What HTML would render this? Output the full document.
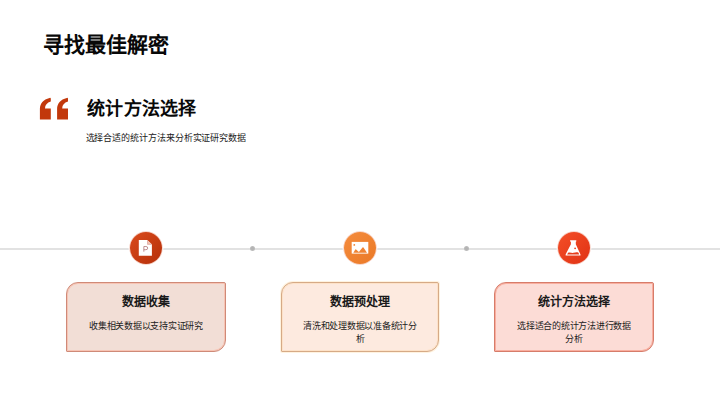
<!DOCTYPE html>
<html lang="zh-CN"><head><meta charset="utf-8">
<style>
*{margin:0;padding:0;box-sizing:border-box}
html,body{width:720px;height:404px;overflow:hidden;background:#fff;font-family:"Liberation Sans",sans-serif;color:#080808}
.abs{position:absolute}
#title{left:43.3px;top:31.5px;font-size:21px;font-weight:bold;line-height:26px;white-space:nowrap}
#quote{left:34px;top:92px;width:40px;height:32px}
#sub{left:87px;top:96.5px;font-size:18px;letter-spacing:0.3px;font-weight:bold;line-height:24px;white-space:nowrap}
#desc{left:85.5px;top:132px;font-size:9px;letter-spacing:-0.08px;line-height:12px;white-space:nowrap;color:#222}
#line{left:0;top:248px;width:720px;height:1.6px;background:#e2e2e2}
.dot{width:5px;height:5px;border-radius:50%;background:radial-gradient(circle,#b4b4b4 30%,#c4c4c4 100%);top:246.4px}
.circ{width:32px;height:32px;border-radius:50%;top:232px;box-shadow:0 0 0 .7px rgba(235,140,110,.45),0 0 0 1.4px #fff}
.circ svg{display:block}
.card{width:159px;height:70px;top:282px;border:1px solid;border-radius:12px 2px 12px 1px;text-align:center}
.card h3{font-size:12px;font-weight:bold;line-height:16px;margin-top:10.5px;color:#1a1a1a}
.card p{font-size:9px;letter-spacing:-0.25px;line-height:13px;margin:10.4px 19px 0;color:#222}

</style></head><body>
<div id="title" class="abs">寻找最佳解密</div>
<svg id="quote" class="abs" viewBox="0 0 40 32"><g fill="#c2380b"><path d="M5.9 27.6H16.8V16.5H11C11 13.2 13 10.8 16.8 9.6V6.7Q16.8 5.6 15.6 5.9C9.3 7.4 5.9 11.4 5.9 16.8Z"/><path transform="translate(17.2 0)" d="M5.9 27.6H16.8V16.5H11C11 13.2 13 10.8 16.8 9.6V6.7Q16.8 5.6 15.6 5.9C9.3 7.4 5.9 11.4 5.9 16.8Z"/></g></svg>
<div id="sub" class="abs">统计方法选择</div>
<div id="desc" class="abs">选择合适的统计方法来分析实证研究数据</div>

<div id="line" class="abs"></div>
<div class="dot abs" style="left:250px"></div>
<div class="dot abs" style="left:464.4px"></div>

<div class="circ abs" style="left:129.6px;background:linear-gradient(135deg,#d6481a 10%,#b9320b 90%)">
<svg width="32" height="32" viewBox="0 0 32 32"><path fill="#fff" d="M8.8 8H17.3L21.9 12.6V23.8H8.8Z"/><path fill="#f2c2b4" d="M17.3 8L21.9 12.6H17.3Z"/><path fill="none" stroke="#d6a09a" stroke-width=".6" d="M17.5 8.3V12.4H21.6"/><path fill="none" stroke="#b88284" stroke-width=".9" d="M13.85 19.7V14.5H15.9Q17.7 14.5 17.7 16.1Q17.7 17.7 15.9 17.7H13.85"/></svg>
</div>
<div class="circ abs" style="left:344px;background:linear-gradient(135deg,#f3893a 15%,#ec7c2a 85%)">
<svg width="32" height="32" viewBox="0 0 32 32"><rect x="7.7" y="9.9" width="16.6" height="11.7" fill="#fff"/><path fill="#f08434" d="M9.3 20.7L11.3 17.6Q11.7 17 12.1 17.6L14.9 19.9L18.5 15.6Q19 15 19.5 15.6L23 20.7Z"/><circle cx="10.3" cy="12.9" r="0.9" fill="#f08434"/></svg>
</div>
<div class="circ abs" style="left:558px;background:linear-gradient(135deg,#f24c26 10%,#e23516 90%)">
<svg width="32" height="32" viewBox="0 0 32 32"><path fill="#fff" d="M12.1 8.3H18.3V9.4L17.8 9.7V12.3L22.4 22.2Q23 23.5 21.7 23.5H8.4Q7.1 23.5 7.7 22.2L12.9 12.3V9.7L12.1 9.4Z"/><path fill="#e63e1c" d="M9.1 22.5L10.1 20.7C12.3 20 14 21.3 15.7 20.8C17.5 20.2 19.2 20.1 20.5 20.7L21.2 22.5Z"/><circle cx="17.1" cy="16.3" r="0.9" fill="#e43c1c"/></svg>
</div>

<div class="card abs" style="left:66px;width:160px;background:#f2ded6;border-color:#cf8a78;box-shadow:inset 0 0 0 1px #f7c4b4">
<h3>数据收集</h3><p>收集相关数据以支持实证研究</p></div>
<div class="card abs" style="left:280.6px;width:158.6px;background:#fdeadf;border-color:#d6aa86;box-shadow:inset 0 0 0 1px #fde2c8,0 0 0 1px #fff3e0">
<h3>数据预处理</h3><p class="s">清洗和处理数据以准备统计分析</p></div>
<div class="card abs" style="left:494px;width:160px;background:#fcdcd6;border-color:#d67c6a;box-shadow:inset 0 0 0 1px #f9ae9f">
<h3>统计方法选择</h3><p class="s">选择适合的统计方法进行数据分析</p></div>
</body></html>
